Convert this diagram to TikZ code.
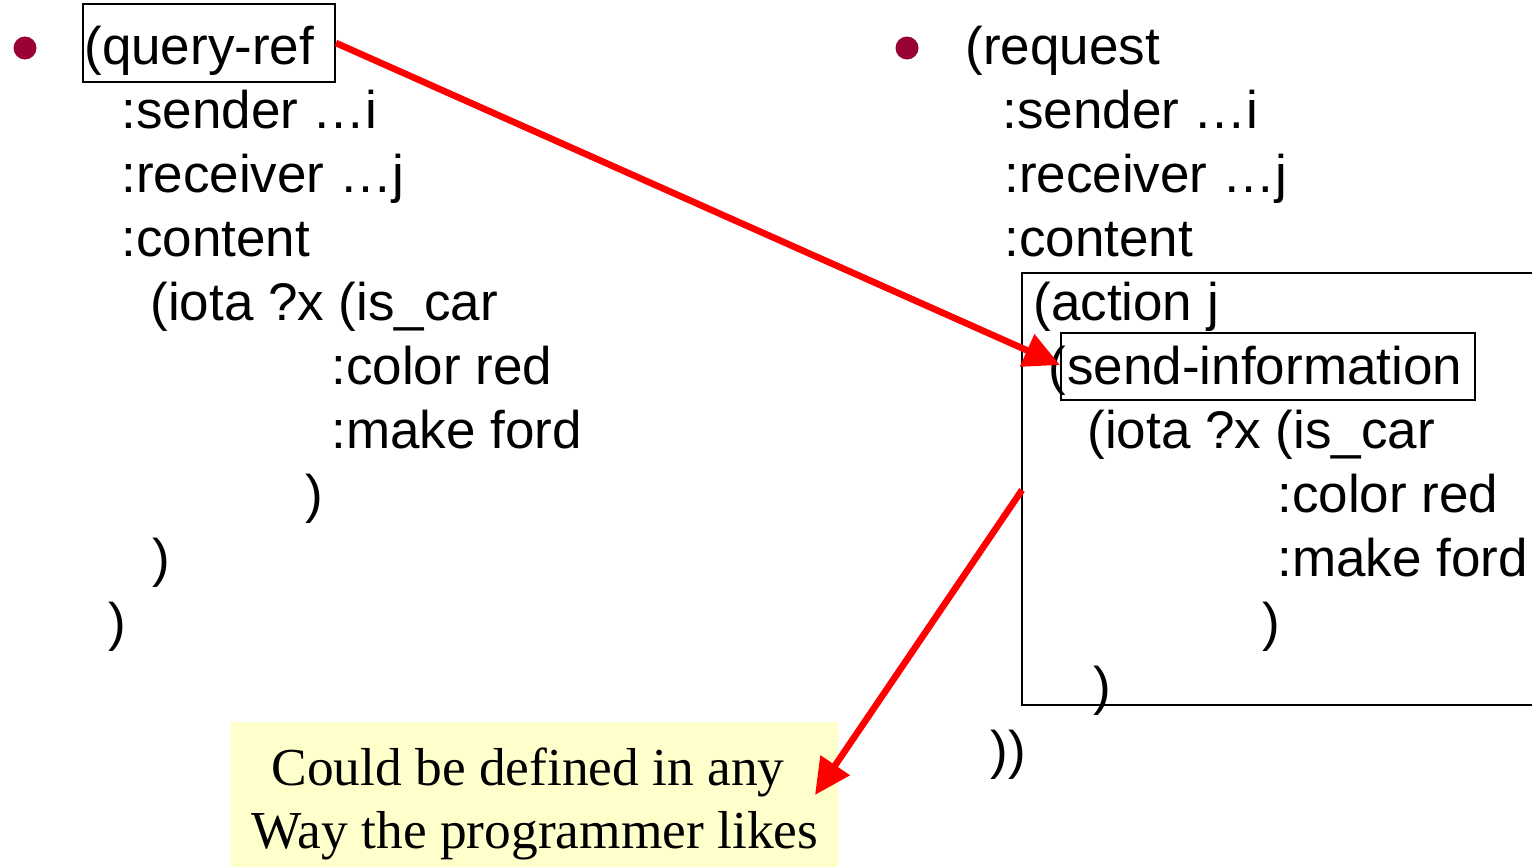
\documentclass[tikz,border=0pt]{standalone}
\usepackage{fontspec}
\setmainfont{Liberation Sans}
\newfontfamily\notefont{Liberation Serif}
\usetikzlibrary{arrows.meta}
\definecolor{bulletred}{HTML}{990033}
\definecolor{noteyellow}{HTML}{FFFFCC}
\definecolor{arrowred}{HTML}{FF0000}

\begin{document}
\begin{tikzpicture}[x=0.5pt,y=-0.5pt,
  code/.style={anchor=base west, inner sep=0pt, font=\fontsize{26.5}{32}\selectfont},
  notetext/.style={anchor=base, inner sep=0pt, font=\notefont\fontsize{26.7}{32}\selectfont},
  dot/.style={circle, fill=bulletred, minimum size=11.5pt, inner sep=0pt},
  frame/.style={draw=black, line width=1pt},
  pointer/.style={draw=arrowred, line width=3.3pt, -{Triangle[length=18pt,width=17pt]}},
  note/.style={fill=noteyellow, inner sep=0pt, anchor=north west}]

\useasboundingbox (0,0) rectangle (1532,867);

% left message: query-ref
\node[dot] (b1) at (25,48) {};
\node[frame, inner sep=0pt, anchor=north west, minimum width=126pt, minimum height=39pt] (qref) at (82,3) {};
\node[code] (l1) at (84,64) {(query-ref};
\node[code] (l2) at (121,128) {:sender …i};
\node[code] (l3) at (121,192) {:receiver …j};
\node[code] (l4) at (121,256) {:content};
\node[code] (l5) at (150,320) {(iota ?x (is\_car};
\node[code] (l6) at (331,384) {:color red};
\node[code] (l7) at (331,448) {:make ford};
\node[code] (l8) at (305,512) {)};
\node[code] (l9) at (152,576) {)};
\node[code] (l10) at (108,640) {)};

% right message: request
\node[dot] (b2) at (907,48) {};
\node[code] (r1) at (965,64) {(request};
\node[code] (r2) at (1002,128) {:sender …i};
\node[code] (r3) at (1004,192) {:receiver …j};
\node[code] (r4) at (1004,256) {:content};
\draw[frame] (1532,273) -- (1022,273) -- (1022,705) -- (1532,705);
\node[code] (r5) at (1033,320) {(action j};
\node[code] (r6) at (1048,384) {(};
\node[frame, inner sep=0pt, minimum width=207pt, minimum height=33.5pt] (sinfo) at (1268,366.5) {};
\node[code] (r7) at (1067,384) {send-information};
\node[code] (r8) at (1087,448) {(iota ?x (is\_car};
\node[code] (r9) at (1277,512) {:color red};
\node[code] (r10) at (1277,576) {:make ford};
\node[code] (r11) at (1262,640) {)};
\node[code] (r12) at (1093,704) {)};
\node[code] (r13) at (990,768) {))};

% note
\node[note, minimum width=303.5pt, minimum height=72.5pt] (note) at (231,722) {};
\node[notetext] (n1) at (528,785) {Could be defined in any};
\node[notetext] (n2) at (535,848) {Way the programmer likes};

% connectors
\coordinate (tip1) at (1060,365);
\coordinate (edge) at (1022,490);
\coordinate (tip2) at (815,795);
\draw[pointer] (qref.east) -- (tip1);
\draw[pointer] (edge) -- (tip2);
\end{tikzpicture}
\end{document}
